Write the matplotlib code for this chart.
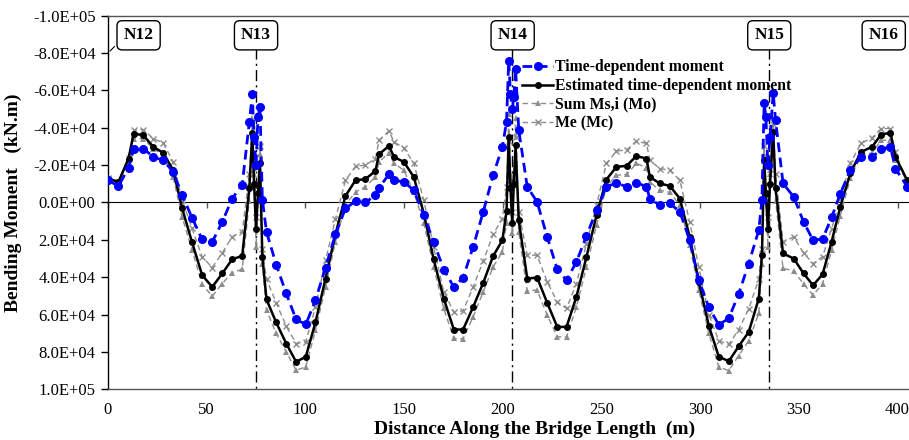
import matplotlib
matplotlib.use("Agg")
import matplotlib.pyplot as plt
from matplotlib.ticker import FixedLocator, FuncFormatter

# ---------------- data ----------------
distance = [
    0, 5.3, 10.4, 13, 17.9, 22.9, 28, 33, 37.6, 42.6, 47.7, 52.8, 57.9, 62.9, 68,
    71.6, 73.1, 74, 75, 76, 77, 78.2,
    80.3, 85.2, 90.3, 95.3, 100.2, 105.1, 110.2, 115.2, 120.3, 125.4, 130.4, 135.5, 137.3, 142.3, 144.9, 149.9,
    154.9, 160, 165, 170.1, 175.2, 179.9, 185, 190.1, 195.1, 199.8,
    201.9, 203, 203.9, 204.8, 205.6, 206.5, 208.1,
    212.4, 217.4, 222.5, 227.6, 232.3, 237.3, 242.4, 247.5, 252.5, 257.6, 262.7, 267.7, 272.8, 274.5,
    279.5, 284.6, 289.7, 294.7, 299.3, 304.4, 309.4, 314.5, 319.5, 324.6, 329.7,
    331.3, 332.4, 333.3, 334.3, 335.4, 337, 338.2,
    342, 347.4, 352.4, 357.2, 362, 366.6, 371, 376.1, 381.5, 387.1, 391.7, 396.4, 398.9, 404.9,
]

time_dependent = [
    -12000, -8700, -18700, -28500, -28900, -24400, -22600, -16400, -3900, 8200, 19800, 21100, 10400, -2100, -9600,
    -43000, -58000, -35000, -20000, -46000, -51000, -1500,
    15700, 33200, 48700, 62600, 65300, 52300, 34800, 17100, 3200, -700, 0, -3900, -8000, -15000, -11900, -11000,
    -6600, 6800, 21100, 35900, 45200, 40300, 23700, 5000, -14600, -29800,
    -43200, -75800, -58300, -50000, -56500, -71700, -38700,
    -8400, -300, 18400, 35800, 41600, 31800, 17900, 4100, -8400, -10500, -8400, -10700, -8400, -2100,
    1400, 500, 5000, 20200, 41600, 56000, 65500, 62000, 49000, 32700, 14800,
    -1500, -53000, -46000, -20000, -35000, -58700, -44000,
    -10200, -3000, 10400, 20200, 19500, 8000, -4800, -17300, -24400, -24400, -28500, -29800, -18200, -8400,
]

estimated = [
    -12800, -11000, -23500, -36900, -36000, -29800, -26600, -17300, 3200, 21400, 38900, 45200, 38000, 30400, 28600,
    -7500, -37000, -10000, 14000, -5000, -21000, 29000,
    51900, 64200, 75500, 85300, 82600, 64200, 40700, 17100, -3500, -11900, -12500, -16900, -25800, -30300, -24400, -21700,
    -13700, 5900, 30500, 51400, 68000, 68000, 55900, 43000, 28700, 20200,
    4700, -35100, -8000, 10900, -10000, -30700, 9500,
    40700, 40200, 53700, 66600, 66600, 50500, 29100, 6800, -12300, -19100, -19600, -24900, -23500, -13700,
    -10200, -8900, -2100, 18400, 42500, 66000, 82500, 85000, 77000, 69300, 51400,
    28200, -22600, -5000, 14000, -10000, -37800, -7500,
    27300, 30000, 38000, 44300, 38500, 21000, 2300, -15800, -27100, -29800, -36400, -37300, -24400, -11900,
]

sum_ms = [
    -13000, -11000, -22600, -34200, -34200, -28900, -25300, -13700, 8000, 25500, 43700, 50200, 43400, 37500, 35700,
    -1000, -45000, -15000, 24000, -2000, -26000, 33000,
    57600, 70100, 80000, 89800, 88000, 68400, 45200, 21100, 1400, -5700, -8400, -13700, -21700, -26600, -20900, -17300,
    -5700, 11200, 34500, 56700, 72800, 73000, 61200, 47800, 34500, 26400,
    11200, -47600, -15000, 16500, -15000, -45000, 16000,
    47300, 46900, 60300, 71900, 72000, 55900, 34500, 12100, -8400, -14600, -15000, -20900, -18700, -11000,
    -6600, -5400, 1400, 22900, 46900, 70000, 88000, 90000, 82000, 74000, 59300,
    33000, -26000, -2000, 24000, -15000, -45000, -1000,
    35300, 36500, 43700, 49600, 43500, 25500, 7000, -13000, -25300, -26600, -33300, -33300, -22600, -11000,
]

me_mc = [
    -13000, -11000, -24000, -38700, -39000, -34200, -31900, -21700, -1200, 13900, 29100, 34800, 27000, 18400, 15700,
    -15000, -42000, -18000, 8000, -10000, -30000, 25000,
    41100, 53700, 66200, 75500, 74600, 56000, 31000, 9000, -11900, -19400, -20000, -23500, -33300, -38300, -32400, -29200,
    -20900, -1200, 24000, 47800, 58600, 58000, 45200, 31400, 17000, 8600,
    -8400, -33000, -12000, 5000, -12000, -35000, 5000,
    28200, 28200, 42500, 53200, 56700, 43400, 22000, 1400, -20900, -27600, -28100, -32800, -31600, -22600,
    -18200, -17300, -11900, 10400, 34500, 60000, 74000, 76000, 68000, 57000, 41000,
    25000, -30000, -10000, 8000, -18000, -42000, -15000,
    21100, 18400, 27000, 32700, 29000, 14000, -2000, -21000, -31600, -34600, -39600, -39600, -27100, -11000,
]

series_labels = ["Time-dependent moment", "Estimated time-dependent moment", "Sum Ms,i (Mo)", "Me (Mc)"]

node_names = ["N12", "N13", "N14", "N15", "N16"]
node_label_x = [15.5, 75.0, 205.0, 335.0, 393.0]
support_x = [74.8, 204.8, 334.8]

x_ticks = [0, 50, 100, 150, 200, 250, 300, 350, 400]
y_ticks = [-100000, -80000, -60000, -40000, -20000, 0, 20000, 40000, 60000, 80000, 100000]

# ---------------- figure ----------------
plt.rcParams['font.family'] = ['Liberation Serif', 'DejaVu Serif']

fig = plt.figure(figsize=(9.09, 4.40), dpi=100)
ax = fig.add_axes([108 / 909, 50.7 / 440, 1 - 108 / 909, 373.6 / 440])

l4, = ax.plot(distance, me_mc, color='#8c8c8c', lw=1.0, ls=(0, (4, 2.5)),
              marker='x', ms=4.5, mew=1.0, zorder=3)
l3, = ax.plot(distance, sum_ms, color='#8c8c8c', lw=1.0, ls=(0, (4, 2.5)),
              marker='^', ms=4, mew=0, zorder=3)
l2, = ax.plot(distance, estimated, color='black', lw=1.8, ls='-',
              marker='o', ms=4, zorder=4)
l1, = ax.plot(distance, time_dependent, color='#0000ff', lw=2.0, ls=(0, (3.5, 2)),
              marker='o', ms=5.5, zorder=5)

ax.set_xlim(0, 405.8)
ax.set_ylim(100000, -100000)

for s in ['left', 'bottom', 'top']:
    ax.spines[s].set_linewidth(1.0)
ax.spines['left'].set_color('black')
ax.spines['bottom'].set_color('#555555')
ax.spines['top'].set_color('#555555')
ax.spines['right'].set_visible(False)

ax.yaxis.set_major_locator(FixedLocator(y_ticks))
ax.yaxis.set_major_formatter(FuncFormatter(lambda v, p: '{:.1E}'.format(v)))
ax.tick_params(axis='y', direction='out', length=5, width=1, labelsize=12, pad=4)

ax.xaxis.set_major_locator(FixedLocator(x_ticks))
ax.tick_params(axis='x', length=0, labelsize=12, pad=9)

# horizontal axis crossing at zero with its tick marks
sec = ax.secondary_xaxis(0.5)
sec.set_xticks(x_ticks)
sec.tick_params(axis='x', direction='in', length=4, width=1, color='#555555', labelbottom=False)
sec.spines['bottom'].set_color('#555555')
sec.spines['bottom'].set_linewidth(1.0)
sec.set_xticklabels([])

ax.set_xlabel('Distance Along the Bridge Length  (m)', fontsize=14, fontweight='bold')
ax.xaxis.set_label_coords(0.533, -0.083)
ax.set_ylabel('Bending Moment   (kN.m)', fontsize=14, fontweight='bold', labelpad=8)

# support lines
ax.vlines(support_x, -82500, 100000, colors='black', linestyles=(0, (8, 3, 1.5, 3)), lw=1.0, zorder=2)

# node labels
box = dict(boxstyle='round,pad=0.38,rounding_size=0.3', fc='white', ec='black', lw=1.0)
for name, nx in zip(node_names, node_label_x):
    if name == 'N12':
        ax.annotate(name, xy=(0, -80000), xytext=(nx, -89500), ha='center', va='center',
                    fontsize=12.5, fontweight='bold', bbox=box, zorder=6,
                    arrowprops=dict(arrowstyle='-', color='black', lw=0.8,
                                    connectionstyle='angle,angleA=90,angleB=45,rad=0'))
    else:
        ax.text(nx, -89500, name, ha='center', va='center', fontsize=12.5,
                fontweight='bold', bbox=box, zorder=6)

leg = ax.legend([l1, l2, l3, l4], series_labels, loc='upper left',
                bbox_to_anchor=(0.509, 0.9), frameon=False,
                prop={'weight': 'bold', 'size': 11.3}, handlelength=2.0,
                handletextpad=0.1, labelspacing=0.17, borderaxespad=0)

fig.savefig('out.png', dpi=100)
